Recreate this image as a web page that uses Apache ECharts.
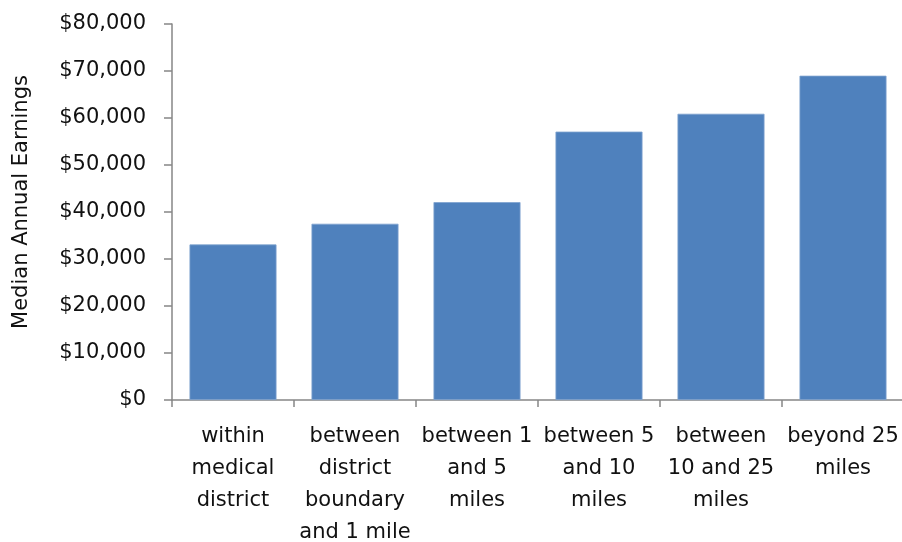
<!DOCTYPE html>
<html>
<head>
<meta charset="utf-8">
<script src="https://cdn.jsdelivr.net/npm/echarts@6/dist/echarts.min.js"></script>
<style>html,body{margin:0;padding:0;background:#fff;}#c{width:902px;height:542px;}</style>
</head>
<body>
<div id="c"></div>
<script>
var categories = ["within\nmedical\ndistrict", "between\ndistrict\nboundary\nand 1 mile", "between 1\nand 5\nmiles", "between 5\nand 10\nmiles", "between\n10 and 25\nmiles", "beyond 25\nmiles"];
var earnings = [33100, 37500, 42100, 57100, 60900, 69000];
var yAxisName = "Median Annual Earnings";

var chart = echarts.init(document.getElementById('c'));
chart.setOption({
  animation: false,
  grid: {left: 172, right: -2, top: 24, bottom: 142, containLabel: false, outerBoundsMode: 'none'},
  xAxis: {
    type: 'category',
    data: categories,
    axisLine: {lineStyle: {color: '#868686', width: 1.5}},
    axisTick: {show: true, length: 7, alignWithLabel: false, lineStyle: {color: '#868686', width: 1.5}},
    axisLabel: {color: '#111', fontFamily: 'DejaVu Sans', fontSize: 21, lineHeight: 32, margin: 21, interval: 0}
  },
  yAxis: {
    type: 'value',
    min: 0, max: 80000, interval: 10000,
    name: yAxisName,
    nameLocation: 'middle',
    nameGap: 140,
    nameTextStyle: {color: '#111', fontFamily: 'DejaVu Sans', fontSize: 21, padding: [0, 0, 0, 20]},
    splitLine: {show: false},
    axisLine: {show: true, lineStyle: {color: '#868686', width: 1.5}},
    axisTick: {show: true, length: 8, lineStyle: {color: '#868686', width: 1.5}},
    axisLabel: {color: '#111', fontFamily: 'DejaVu Sans', fontSize: 21, margin: 26,
      formatter: function (v) { return '$' + v.toLocaleString('en-US'); }}
  },
  series: [{
    type: 'bar',
    data: earnings,
    barWidth: 87,
    itemStyle: {color: '#4F81BD', borderColor: '#7FA3CF', borderWidth: 0.8}
  }]
});
</script>
</body>
</html>
